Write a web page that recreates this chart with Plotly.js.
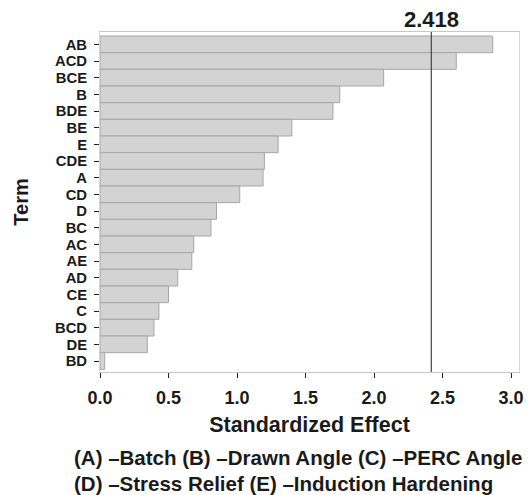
<!DOCTYPE html>
<html>
<head>
<meta charset="utf-8">
<script src="https://cdn.plot.ly/plotly-3.0.1.min.js"></script>
<style>
  html, body { margin: 0; padding: 0; background: #fff; }
  #chart { width: 530px; height: 495px; }
</style>
</head>
<body>
<div id="chart"></div>
<script>
// Terms ordered from largest to smallest standardized effect (top to bottom)
const terms = ["AB", "ACD", "BCE", "B", "BDE", "BE", "E", "CDE", "A", "CD",
               "D", "BC", "AC", "AE", "AD", "CE", "C", "BCD", "DE", "BD"];
const effects = [2.866, 2.60, 2.07, 1.75, 1.70, 1.40, 1.30, 1.20, 1.19, 1.02,
                 0.85, 0.81, 0.684, 0.67, 0.567, 0.50, 0.43, 0.394, 0.345, 0.034];
const criticalValue = 2.418;
const criticalLabel = "2.418";
const xTickVals = [0, 0.5, 1.0, 1.5, 2.0, 2.5, 3.0];
const xTickText = ["0.0", "0.5", "1.0", "1.5", "2.0", "2.5", "3.0"];
const footerLines = [
  "(A) \u2013Batch (B) \u2013Drawn Angle (C) \u2013PERC Angle",
  "(D) \u2013Stress Relief (E) \u2013Induction Hardening"
];

const FONT = "Liberation Sans, Arial, Helvetica, sans-serif";
const TXT = "#1a1a1a";

const trace = {
  type: "bar",
  orientation: "h",
  y: terms,
  x: effects,
  marker: { color: "#d3d3d3", line: { color: "#a6a6a6", width: 1 } },
  hoverinfo: "x+y"
};

const layout = {
  width: 530,
  height: 495,
  margin: { l: 100, r: 11, t: 32, b: 123 },
  paper_bgcolor: "#ffffff",
  plot_bgcolor: "#ffffff",
  showlegend: false,
  bargap: 0,
  font: { family: FONT, color: TXT },
  xaxis: {
    range: [0, 3.058],
    tickmode: "array",
    tickvals: xTickVals,
    ticktext: xTickText,
    ticks: "outside",
    ticklen: 5,
    tickwidth: 1,
    tickcolor: "#222",
    ticklabelstandoff: 4,
    showgrid: false,
    zeroline: false,
    showline: true,
    linecolor: "#c8c8c8",
    linewidth: 1,
    mirror: true,
    tickfont: { family: FONT, size: 18, weight: "bold", color: TXT },
    title: { text: "Standardized Effect", font: { family: FONT, size: 21.5, weight: "bold", color: TXT }, standoff: 10 }
  },
  yaxis: {
    type: "category",
    categoryorder: "array",
    categoryarray: terms,
    range: [19.66, -0.74],
    tickmode: "array",
    tickvals: terms,
    ticktext: terms,
    ticks: "outside",
    ticklen: 5,
    tickwidth: 1,
    tickcolor: "#222",
    ticklabelstandoff: 4,
    showgrid: false,
    zeroline: false,
    showline: true,
    linecolor: "#d8d8d8",
    linewidth: 1,
    mirror: true,
    tickfont: { family: FONT, size: 14.8, weight: "bold", color: TXT },
    title: { text: "Term", font: { family: FONT, size: 20, weight: "bold", color: TXT }, standoff: 20 }
  },
  shapes: [{
    type: "line",
    xref: "x", yref: "paper",
    x0: criticalValue, x1: criticalValue,
    y0: 0, y1: 1,
    line: { color: "#444", width: 1.2 }
  }],
  annotations: [
    {
      text: criticalLabel,
      xref: "x", yref: "paper",
      x: criticalValue, y: 1.038,
      xanchor: "center", yanchor: "middle",
      showarrow: false,
      font: { family: FONT, size: 22, weight: "bold", color: TXT }
    },
    {
      text: footerLines[0],
      xref: "paper", yref: "paper",
      x: -0.0668, y: -0.25,
      xanchor: "left", yanchor: "middle",
      showarrow: false,
      font: { family: FONT, size: 20.5, weight: "bold", color: TXT }
    },
    {
      text: footerLines[1],
      xref: "paper", yref: "paper",
      x: -0.0668, y: -0.3265,
      xanchor: "left", yanchor: "middle",
      showarrow: false,
      font: { family: FONT, size: 20.5, weight: "bold", color: TXT }
    }
  ]
};

Plotly.newPlot("chart", [trace], layout, { displayModeBar: false, staticPlot: true });
</script>
</body>
</html>
